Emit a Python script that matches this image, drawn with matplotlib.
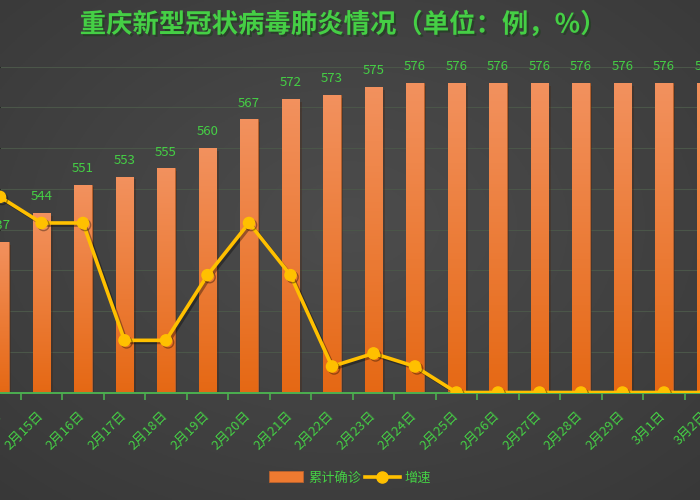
import numpy as np
import matplotlib
matplotlib.use('Agg')
from matplotlib import pyplot as plt
import matplotlib.patches as mpatches
import matplotlib.lines as mlines
import matplotlib.patheffects as pe

plt.rcParams['font.family'] = ['Noto Sans CJK SC', 'DejaVu Sans']

# data
dates = ['2月14日', '2月15日', '2月16日', '2月17日', '2月18日', '2月19日',
         '2月20日', '2月21日', '2月22日', '2月23日', '2月24日', '2月25日',
         '2月26日', '2月27日', '2月28日', '2月29日', '3月1日', '3月2日']
confirmed = [537, 544, 551, 553, 555, 560, 567, 572, 573, 575,
             576, 576, 576, 576, 576, 576, 576, 576]
growth = [1.5, 1.3, 1.3, 0.4, 0.4, 0.9, 1.3, 0.9, 0.2, 0.3,
          0.2, 0, 0, 0, 0, 0, 0, 0]

title = '重庆新型冠状病毒肺炎情况（单位：例，%）'
green = '#45cf45'
gold = '#ffc000'

fig = plt.figure(figsize=(7, 5), dpi=100)

# dark radial background
bg = fig.add_axes([0, 0, 1, 1], zorder=0)
bg.axis('off')
yy, xx = np.mgrid[0:1:200j, 0:1:280j]
r = np.sqrt(((xx - 0.5) / 0.75) ** 2 + ((yy - 0.45) / 0.75) ** 2)
gray = np.clip(0.30 - 0.08 * r, 0, 1)
bg.imshow(np.dstack([gray] * 3), extent=[0, 1, 0, 1], aspect='auto')

ax = fig.add_axes([0, 0.215, 1, 0.652], zorder=1)
ax.set_facecolor('none')
x = np.arange(len(dates))
xmax = 700 / 41.5

bars = ax.bar(x, confirmed, width=0.41, color='#ec7a35', edgecolor='#b9622e',
              linewidth=0.6, zorder=2,
              path_effects=[pe.SimplePatchShadow(offset=(2, -2), alpha=0.35), pe.Normal()])

grad = np.linspace(0, 1, 100).reshape(-1, 1)
top_c = np.array([0.95, 0.57, 0.37])
bot_c = np.array([0.90, 0.41, 0.08])
img = grad[..., None] * top_c + (1 - grad[..., None]) * bot_c
for b in bars:
    x0, w, h = b.get_x(), b.get_width(), b.get_height()
    im = ax.imshow(img, extent=[x0, x0 + w, 500, h], origin='lower',
                   aspect='auto', zorder=2.1)
    im.set_clip_path(b)

for i, v in enumerate(confirmed):
    ax.annotate(str(v), xy=(i, v), xytext=(0, 7), textcoords='offset points',
                ha='center', va='bottom', color=green, fontsize=9.5,
                annotation_clip=False)

for i, d in enumerate(dates):
    ax.annotate(d, xy=(i, 0), xycoords=('data', 'axes fraction'),
                xytext=(0, -15), textcoords='offset points', rotation=45,
                ha='right', va='center', rotation_mode='anchor',
                color=green, fontsize=9.5, annotation_clip=False)

ax.set_xlim(0, xmax)
ax.set_ylim(500, 580)
ax.set_yticks(np.arange(500, 581, 10))
ax.yaxis.grid(True, color='#4b5649', linewidth=0.8)
ax.set_axisbelow(True)
ax.tick_params(axis='y', left=False, labelleft=False)
ax.set_xticks(x + 0.5)
ax.set_xticklabels([])
ax.tick_params(axis='x', colors='#4caf50', length=5, width=1.2, direction='out')
for s in ['top', 'left', 'right']:
    ax.spines[s].set_visible(False)
ax.spines['bottom'].set_color('#4caf50')
ax.spines['bottom'].set_linewidth(1.4)
ax.spines['bottom'].set_zorder(3)

ax2 = ax.twinx()
ax2.plot(x, growth, color=gold, linewidth=2.6, marker='o', markersize=8,
         zorder=3, clip_on=True,
         path_effects=[pe.SimpleLineShadow(offset=(1.5, -1.5), alpha=0.35), pe.Normal()])
ax2.set_ylim(0, 2.5)
ax2.set_xlim(0, xmax)
ax2.axis('off')

fig.text(0.49, 0.95, title, fontsize=19, weight='bold', color=green,
         ha='center', va='center',
         path_effects=[pe.withSimplePatchShadow(offset=(1.5, -1.5), alpha=0.5)])

handles = [mpatches.Patch(facecolor='#ee7a30', edgecolor='#b9622e', linewidth=0.6),
           mlines.Line2D([], [], color=gold, linewidth=2.6, marker='o', markersize=8)]
leg = fig.legend(handles, ['累计确诊', '增速'], loc='center',
                 bbox_to_anchor=(0.5, 0.044), ncol=2, frameon=False,
                 handlelength=2.6, handleheight=0.9, handletextpad=0.4,
                 columnspacing=0.3, fontsize=9.5, labelcolor=green)

fig.savefig('out.png', dpi=100, facecolor=fig.get_facecolor())
